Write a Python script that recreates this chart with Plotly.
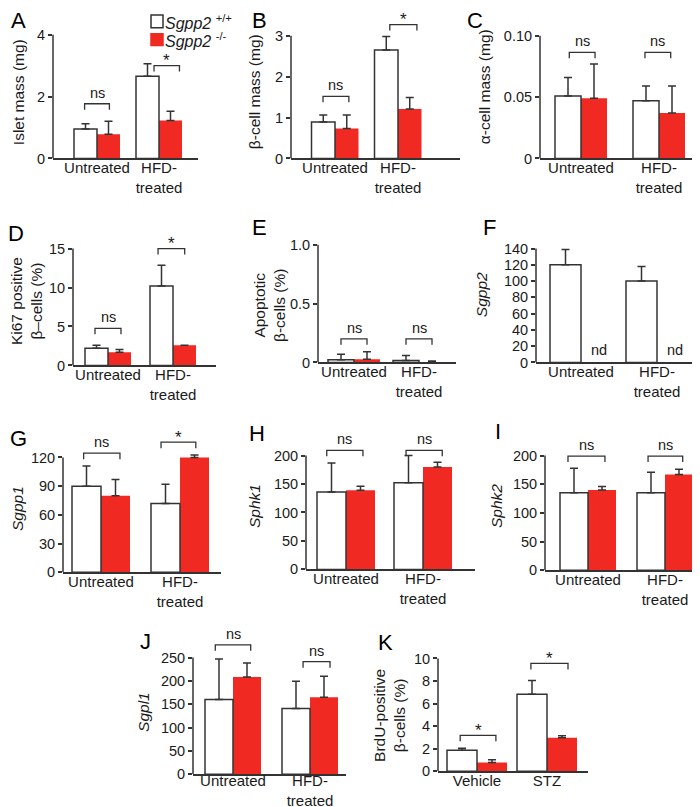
import plotly.graph_objects as go

W, H = 700, 807

# ---------------- data ----------------
categories = ["Untreated", "HFD-<br>treated"]
k_categories = ["Vehicle", "STZ"]

islet_wt = [0.95, 2.66]
islet_wt_err = [0.17, 0.40]
islet_ko = [0.78, 1.23]
islet_ko_err = [0.42, 0.30]

beta_wt = [0.89, 2.65]
beta_wt_err = [0.17, 0.33]
beta_ko = [0.73, 1.21]
beta_ko_err = [0.33, 0.28]

alpha_wt = [0.051, 0.047]
alpha_wt_err = [0.015, 0.012]
alpha_ko = [0.049, 0.037]
alpha_ko_err = [0.028, 0.022]

ki67_wt = [2.2, 10.2]
ki67_wt_err = [0.4, 2.65]
ki67_ko = [1.7, 2.6]
ki67_ko_err = [0.35, 0.0]

apop_wt = [0.023, 0.017]
apop_wt_err = [0.047, 0.043]
apop_ko = [0.028, 0.003]
apop_ko_err = [0.062, 0.01]

sgpp2_wt = [120, 100]
sgpp2_wt_err = [19, 18]
sgpp2_ko = [None, None]
sgpp2_ko_err = [0, 0]

sgpp1_wt = [90, 72]
sgpp1_wt_err = [21, 20]
sgpp1_ko = [80, 120]
sgpp1_ko_err = [17, 2.5]

sphk1_wt = [136, 152]
sphk1_wt_err = [51, 48]
sphk1_ko = [139, 180]
sphk1_ko_err = [7, 8]

sphk2_wt = [135, 135]
sphk2_wt_err = [43, 36]
sphk2_ko = [140, 167]
sphk2_ko_err = [6, 9]

sgpl1_wt = [160, 141]
sgpl1_wt_err = [87, 58]
sgpl1_ko = [208, 165]
sgpl1_ko_err = [30, 45]

brdu_wt = [1.87, 6.84]
brdu_wt_err = [0.17, 1.2]
brdu_ko = [0.79, 2.98]
brdu_ko_err = [0.23, 0.18]

# significance brackets: (x0, x1, top, label) in category units / data units
brackets_A = [(-0.2, 0.2, 1.77, "ns"), (0.92, 1.33, 3.0, "*")]
brackets_B = [(-0.19, 0.22, 1.52, "ns"), (0.87, 1.30, 3.27, "*")]
brackets_C = [(-0.15, 0.18, 0.0865, "ns"), (0.82, 1.15, 0.0865, "ns")]
brackets_D = [(-0.2, 0.2, 4.75, "ns"), (0.77, 1.18, 15.0, "*")]
brackets_E = [(-0.2, 0.2, 0.2, "ns"), (0.8, 1.2, 0.2, "ns")]
brackets_F = []
brackets_G = [(-0.22, 0.24, 124.5, "ns"), (0.76, 1.2, 136, "*")]
brackets_H = [(-0.25, 0.22, 209, "ns"), (0.78, 1.25, 209, "ns")]
brackets_I = [(-0.26, 0.22, 199, "ns"), (0.78, 1.23, 199, "ns")]
brackets_J = [(-0.23, 0.23, 277, "ns"), (0.91, 1.26, 241, "ns")]
brackets_K = [(-0.24, 0.27, 3.19, "*"), (0.77, 1.3, 9.56, "*")]

# ---------------- layout config (pixel geometry) ----------------
panels = [
    dict(letter="A", lpos=(10, 13), title="Islet mass (mg)", tpos=(10, 85), italic=False,
         xl=45, xr=190, y0=152, ytp=27, c0=89, c1=151, bw=23,
         ticks=[0, 2, 4], ticktext=["0", "2", "4"], cats=categories,
         wt=islet_wt, wte=islet_wt_err, ko=islet_ko, koe=islet_ko_err, br=brackets_A),
    dict(letter="B", lpos=(251, 13), title="β-cell mass (mg)", tpos=(246, 85), italic=False,
         xl=283, xr=452, y0=152, ytp=28, c0=327, c1=390, bw=23.5,
         ticks=[0, 1, 2, 3], ticktext=["0", "1", "2", "3"], cats=categories,
         wt=beta_wt, wte=beta_wt_err, ko=beta_ko, koe=beta_ko_err, br=brackets_B),
    dict(letter="C", lpos=(467, 13), title="α-cell mass (mg)", tpos=(476, 80), italic=False,
         xl=532, xr=690, y0=152, ytp=28, c0=573, c1=651, bw=26,
         ticks=[0, 0.05, 0.10], ticktext=["0", "0.05", "0.10"], cats=categories,
         wt=alpha_wt, wte=alpha_wt_err, ko=alpha_ko, koe=alpha_ko_err, br=brackets_C),
    dict(letter="D", lpos=(8, 228), title="Ki67 positive<br>β–cells (%)", tpos=(18, 296), italic=False,
         xl=65, xr=208, y0=361, ytp=243, c0=100, c1=165, bw=23,
         ticks=[0, 5, 10, 15], ticktext=["0", "5", "10", "15"], cats=categories,
         wt=ki67_wt, wte=ki67_wt_err, ko=ki67_ko, koe=ki67_ko_err, br=brackets_D),
    dict(letter="E", lpos=(251, 222), title="Apoptotic<br>β-cells (%)", tpos=(261, 300), italic=False,
         xl=310, xr=448, y0=358, ytp=239, c0=346, c1=411, bw=26,
         ticks=[0, 0.5, 1.0], ticktext=["0", "0.5", "1.0"], cats=categories,
         wt=apop_wt, wte=apop_wt_err, ko=apop_ko, koe=apop_ko_err, br=brackets_E),
    dict(letter="F", lpos=(481, 222), title="Sgpp2", tpos=(473, 290), italic=True,
         xl=528, xr=690, y0=358, ytp=243, c0=573, c1=649, bw=31,
         ticks=[0, 20, 40, 60, 80, 100, 120, 140],
         ticktext=["0", "20", "40", "60", "80", "100", "120", "140"], cats=categories,
         wt=sgpp2_wt, wte=sgpp2_wt_err, ko=sgpp2_ko, koe=sgpp2_ko_err, br=brackets_F, nd=True),
    dict(letter="G", lpos=(10, 435), title="Sgpp1", tpos=(10, 506), italic=True,
         xl=55, xr=213, y0=570, ytp=454, c0=93, c1=172, bw=29,
         ticks=[0, 30, 60, 90, 120], ticktext=["0", "30", "60", "90", "120"], cats=categories,
         wt=sgpp1_wt, wte=sgpp1_wt_err, ko=sgpp1_ko, koe=sgpp1_ko_err, br=brackets_G),
    dict(letter="H", lpos=(249, 430), title="Sphk1", tpos=(246, 503), italic=True,
         xl=298, xr=467, y0=567, ytp=452, c0=338, c1=415, bw=29,
         ticks=[0, 50, 100, 150, 200], ticktext=["0", "50", "100", "150", "200"], cats=categories,
         wt=sphk1_wt, wte=sphk1_wt_err, ko=sphk1_ko, koe=sphk1_ko_err, br=brackets_H),
    dict(letter="I", lpos=(490, 428), title="Sphk2", tpos=(488, 503), italic=True,
         xl=537, xr=700, y0=568, ytp=452, c0=580, c1=657, bw=28,
         ticks=[0, 50, 100, 150, 200], ticktext=["0", "50", "100", "150", "200"], cats=categories,
         wt=sphk2_wt, wte=sphk2_wt_err, ko=sphk2_ko, koe=sphk2_ko_err, br=brackets_I),
    dict(letter="J", lpos=(137, 640), title="Sgpl1", tpos=(136, 711), italic=True,
         xl=185, xr=338, y0=774, ytp=656, c0=225, c1=302, bw=28, standoff=-8,
         ticks=[0, 50, 100, 150, 200, 250], ticktext=["0", "50", "100", "150", "200", "250"],
         cats=categories,
         wt=sgpl1_wt, wte=sgpl1_wt_err, ko=sgpl1_ko, koe=sgpl1_ko_err, br=brackets_J),
    dict(letter="K", lpos=(377, 641), title="BrdU-positive<br>β-cells (%)", tpos=(382, 715), italic=False,
         xl=430, xr=580, y0=771, ytp=657, c0=469, c1=539, bw=30,
         ticks=[0, 2, 4, 6, 8, 10], ticktext=["0", "2", "4", "6", "8", "10"], cats=k_categories,
         wt=brdu_wt, wte=brdu_wt_err, ko=brdu_ko, koe=brdu_ko_err, br=brackets_K),
]

EDGE = "#333333"
RED = "#f02a22"
TXT = "#1a1a1a"
FONT = "Arial, Liberation Sans, Helvetica, sans-serif"
EXT = 1.2


def px(x, y):
    return x / W, 1 - y / H


fig = go.Figure()
shapes = []
annotations = []
layout = {}

for i, p in enumerate(panels):
    n = i + 1
    xa = "x" if n == 1 else f"x{n}"
    ya = "y" if n == 1 else f"y{n}"
    xkey = "xaxis" if n == 1 else f"xaxis{n}"
    ykey = "yaxis" if n == 1 else f"yaxis{n}"
    u = p["c1"] - p["c0"]
    w = p["bw"] / u
    xrange = [-(p["c0"] - p["xl"]) / u, (p["xr"] - p["c0"]) / u]
    top = p["ticks"][-1]
    ytop_px = p["y0"] - EXT * (p["y0"] - p["ytp"])
    ydom = [1 - p["y0"] / H, 1 - ytop_px / H]
    xdom = [p["xl"] / W, min(p["xr"] / W, 1.0)]
    per_px = top / (p["y0"] - p["ytp"])

    fig.add_trace(go.Bar(
        x=[0, 1], y=p["ko"], width=w, offset=0,
        marker=dict(color=RED, line=dict(width=0)),
        error_y=dict(type="data", symmetric=False, array=p["koe"], arrayminus=[0, 0],
                     color=EDGE, thickness=1.5, width=4, visible=not p.get("nd", False)),
        xaxis=xa, yaxis=ya, showlegend=False, hoverinfo="skip"))
    fig.add_trace(go.Bar(
        x=[0, 1], y=p["wt"], width=w, offset=-w,
        marker=dict(color="white", line=dict(color=EDGE, width=1.5)),
        error_y=dict(type="data", symmetric=False, array=p["wte"], arrayminus=[0, 0],
                     color=EDGE, thickness=1.5, width=4),
        xaxis=xa, yaxis=ya, showlegend=False, hoverinfo="skip"))

    layout[xkey] = dict(domain=xdom, range=xrange, anchor=ya, tickmode="array",
                        tickvals=[0, 1], ticktext=p["cats"], showline=True,
                        linecolor=EDGE, linewidth=1.5, ticks="", showgrid=False,
                        zeroline=False, tickfont=dict(size=15, color=TXT, family=FONT),
                        ticklabelstandoff=p.get("standoff", -5), fixedrange=True)
    layout[ykey] = dict(domain=ydom, range=[0, EXT * top], anchor=xa, tickmode="array",
                        tickvals=p["ticks"], ticktext=p["ticktext"], ticks="outside",
                        ticklen=4, tickwidth=1.5, tickcolor=EDGE, showline=False,
                        showgrid=False, zeroline=False,
                        tickfont=dict(size=14.5, color=TXT, family=FONT), fixedrange=True)

    # y axis line up to top tick
    shapes.append(dict(type="line", xref=f"{xa} domain", yref=ya, x0=0, x1=0, y0=0, y1=top,
                       line=dict(color=EDGE, width=1.5)))

    leg = 6 * per_px
    for (x0, x1, yt, lab) in p["br"]:
        shapes.append(dict(type="path", xref=xa, yref=ya,
                           path=f"M {x0},{yt-leg} L {x0},{yt} L {x1},{yt} L {x1},{yt-leg}",
                           line=dict(color=EDGE, width=1.3)))
        if lab == "ns":
            annotations.append(dict(x=(x0 + x1) / 2, y=yt, xref=xa, yref=ya, text=lab,
                                    showarrow=False, yanchor="bottom", yshift=1,
                                    font=dict(size=14.5, color=TXT, family=FONT)))
        else:
            annotations.append(dict(x=(x0 + x1) / 2, y=yt, xref=xa, yref=ya, text=lab,
                                    showarrow=False, yanchor="middle", yshift=5,
                                    font=dict(size=17, color=TXT, family=FONT)))
    if p.get("nd"):
        for k in range(2):
            annotations.append(dict(x=k + w / 2 + 0.03, y=0, xref=xa, yref=ya, text="nd",
                                    showarrow=False, yanchor="bottom", yshift=2,
                                    font=dict(size=14.5, color=TXT, family=FONT)))

    # panel letter
    lx, ly = px(*p["lpos"])
    annotations.append(dict(x=lx, y=ly, xref="paper", yref="paper", text=p["letter"],
                            showarrow=False, xanchor="center", yanchor="middle",
                            font=dict(size=22, color="black", family=FONT)))
    # y title
    tx, ty = px(*p["tpos"])
    ttl = f"<i>{p['title']}</i>" if p["italic"] else p["title"]
    annotations.append(dict(x=tx, y=ty, xref="paper", yref="paper", text=ttl,
                            showarrow=False, textangle=-90, xanchor="center", yanchor="middle",
                            font=dict(size=15.5, color=TXT, family=FONT)))

# legend (panel A)
for (y0, y1, col, lc) in [(7, 20, "white", EDGE), (26, 38, RED, RED)]:
    a0 = px(143, y0)
    a1 = px(155, y1)
    shapes.append(dict(type="rect", xref="paper", yref="paper", x0=a0[0], x1=a1[0],
                       y0=a1[1], y1=a0[1], fillcolor=col, line=dict(color=lc, width=1.5)))
for (yc, sup) in [(14, "+/+"), (32, "-/-")]:
    lx, ly = px(155, yc)
    annotations.append(dict(x=lx, y=ly, xref="paper", yref="paper",
                            text=f"<i>Sgpp2</i> <sup>{sup}</sup>", showarrow=False,
                            xanchor="left", yanchor="middle",
                            font=dict(size=16, color=TXT, family=FONT)))

fig.update_layout(
    width=W, height=H, margin=dict(l=0, r=0, t=0, b=0),
    paper_bgcolor="white", plot_bgcolor="white",
    barmode="overlay", showlegend=False,
    shapes=shapes, annotations=annotations,
    font=dict(family=FONT, color=TXT),
    **layout)

fig.write_html("out.html")
